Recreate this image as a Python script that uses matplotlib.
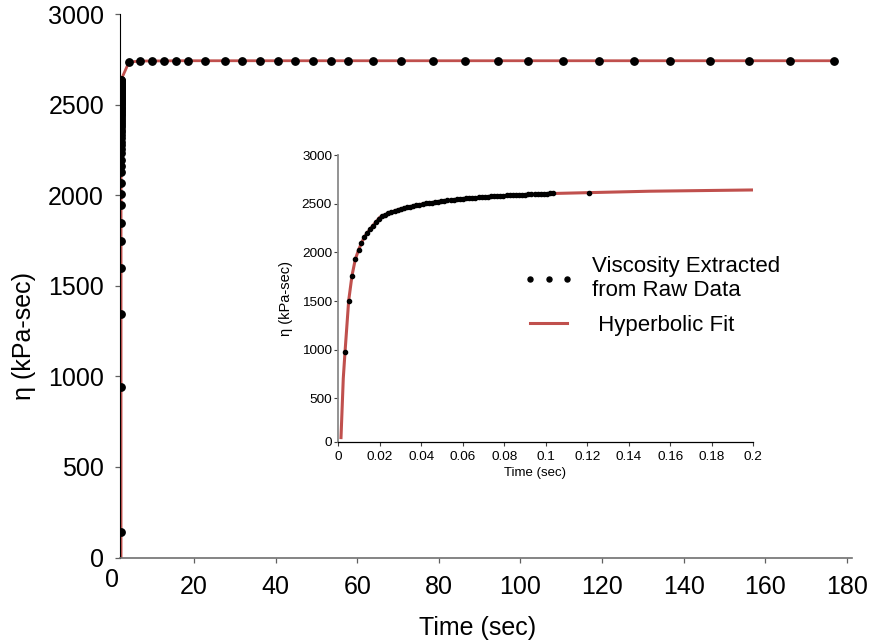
import numpy as np
import matplotlib
matplotlib.use("Agg")
import matplotlib.pyplot as plt
from matplotlib.ticker import FuncFormatter

plt.rcParams['font.family'] = ['Liberation Sans', 'DejaVu Sans']

RED = '#C0504D'

# ---- Main plot: full creep record -------------------------------------
main_stack_t = 2.1
main_stack_v = [139, 943, 1344, 1596, 1747, 1846, 1946, 2005, 2065, 2126,
                2163, 2194, 2231, 2255, 2275, 2295, 2313, 2330, 2346, 2360,
                2374, 2387, 2399, 2410, 2421, 2431, 2441, 2450, 2459, 2467,
                2475, 2482, 2489, 2496, 2502, 2508, 2514, 2520, 2525, 2530,
                2535, 2540, 2545, 2549, 2553, 2557, 2561, 2565, 2569, 2573,
                2577, 2580, 2584, 2588, 2591, 2595, 2598, 2602, 2605, 2609,
                2612, 2616, 2619, 2623, 2626, 2630, 2633, 2636]
main_late_t = [4.04, 6.81, 9.68, 12.62, 15.49, 18.43, 22.67, 27.50, 31.81,
               36.15, 40.49, 44.80, 49.14, 53.48, 57.79, 63.92, 70.78, 78.55,
               86.47, 94.41, 101.91, 110.49, 119.17, 127.75, 136.72, 146.37,
               155.93, 166.05, 176.76]
main_late_v = [2735, 2740, 2741, 2741, 2742, 2742, 2742, 2742, 2742, 2742,
               2742, 2742, 2742, 2742, 2742, 2742, 2742, 2742, 2742, 2742,
               2742, 2742, 2742, 2742, 2742, 2742, 2742, 2742, 2742]

main_fit_t = [2.1, 2.1] + main_late_t
main_fit_v = [0, 2636] + main_late_v

main_xticks = [20, 40, 60, 80, 100, 120, 140, 160, 180]
main_yticks = [0, 500, 1000, 1500, 2000, 2500, 3000]

# ---- Inset: first 0.2 s -------------------------------------------------
inset_t = [0.00323, 0.0050, 0.0066, 0.0082, 0.0098, 0.0111, 0.0125, 0.0138,
           0.0153, 0.0166, 0.0181, 0.0196, 0.0211, 0.0226, 0.0241, 0.0256,
           0.0271, 0.0286, 0.0301, 0.0316, 0.0331, 0.0346, 0.0361, 0.0376,
           0.0391, 0.0406, 0.0421, 0.0436, 0.0451, 0.0466, 0.0481, 0.0496,
           0.0511, 0.0526, 0.0541, 0.0556, 0.0571, 0.0586, 0.0601, 0.0616,
           0.0631, 0.0646, 0.0661, 0.0676, 0.0691, 0.0706, 0.0721, 0.0736,
           0.0751, 0.0766, 0.0781, 0.0796, 0.0811, 0.0826, 0.0841, 0.0856,
           0.0871, 0.0886, 0.0901, 0.0916, 0.0931, 0.0946, 0.0961, 0.0976,
           0.0991, 0.1006, 0.1021, 0.1036, 0.1207]
inset_v = [974, 1504, 1761, 1929, 2027, 2092, 2157, 2198, 2237, 2274,
           2310, 2345, 2370, 2387, 2401, 2413, 2424, 2435, 2445, 2454,
           2462, 2470, 2477, 2484, 2490, 2496, 2502, 2507, 2512, 2517,
           2522, 2526, 2530, 2534, 2538, 2542, 2545, 2548, 2551, 2554,
           2557, 2560, 2563, 2565, 2568, 2570, 2572, 2574, 2577, 2579,
           2581, 2582, 2584, 2586, 2588, 2589, 2591, 2593, 2594, 2596,
           2597, 2598, 2600, 2601, 2602, 2604, 2605, 2606, 2613]

fit_t = [0.0013, 0.0024, 0.00323, 0.0050, 0.0066, 0.0082, 0.0098, 0.0111,
         0.0125, 0.0138, 0.0153, 0.0166, 0.0181, 0.0200, 0.0250, 0.0300,
         0.0400, 0.0500, 0.0600, 0.0800, 0.1000, 0.1200, 0.1500, 0.2000]
fit_v = [97, 706, 974, 1504, 1761, 1929, 2027, 2092, 2157, 2198, 2237,
         2274, 2310, 2360, 2410, 2445, 2494, 2526, 2551, 2583, 2603, 2613,
         2628, 2641]

inset_xticks = [0, 0.02, 0.04, 0.06, 0.08, 0.1, 0.12, 0.14, 0.16, 0.18, 0.2]
inset_yticks = [500, 1000, 1500, 2000, 2500, 3000]
inset_ybottom = 55

W, H = 875, 643
fig = plt.figure(figsize=(W / 100, H / 100), dpi=100)


def px_axes(left, top, right, bottom):
    return [left / W, 1 - bottom / H, (right - left) / W, (bottom - top) / H]


# main axes
ax = fig.add_axes(px_axes(120, 14, 852, 557.5))
ax.plot(main_fit_t, main_fit_v, color=RED, lw=2.0, zorder=2)
ax.plot(np.full(len(main_stack_v), main_stack_t), main_stack_v, 'o',
        color='black', ms=5.3, zorder=3)
ax.plot(main_late_t, main_late_v, 'o', color='black', ms=5.3, zorder=3)
ax.set_xlim(1.84, 181.25)
ax.set_ylim(0, 3000)
ax.set_xticks(main_xticks)
ax.set_yticks(main_yticks)
for s in ['top', 'right']:
    ax.spines[s].set_visible(False)
ax.spines['left'].set_color('black')
ax.spines['left'].set_linewidth(0.8)
ax.spines['bottom'].set_color('#707070')
ax.spines['bottom'].set_linewidth(1.2)
ax.tick_params(axis='both', direction='out', length=3.5, width=0.9,
               color='#606060', labelsize=18)
ax.tick_params(axis='x', pad=9)
ax.tick_params(axis='y', pad=8)
ax.text(0, -0.0195, '0', transform=ax.get_xaxis_transform(), ha='center',
        va='top', fontsize=18)
ax.set_xlabel('Time (sec)', fontsize=18)
ax.xaxis.set_label_coords((478 - 120) / 732, (557.5 - 628) / 543.5)
ax.xaxis.label.set_va('center')
ax.set_ylabel('η (kPa-sec)', fontsize=18)
ax.yaxis.set_label_coords((24 - 120) / 732, (557.5 - 336) / 543.5)
ax.yaxis.label.set_va('center')

# inset axes
ai = fig.add_axes(px_axes(338.3, 155, 753.3, 441.7))
fit_line, = ai.plot(fit_t, fit_v, color=RED, lw=2.2, zorder=2,
                    label=' Hyperbolic Fit')
pts, = ai.plot(inset_t, inset_v, 'o', color='black', ms=3.0, zorder=3,
               label='Viscosity Extracted\nfrom Raw Data')
ai.set_xlim(0, 0.2)
ai.set_ylim(inset_ybottom, 3000)
ai.set_xticks(inset_xticks)
ai.xaxis.set_major_formatter(FuncFormatter(lambda v, p: '%g' % v))
ai.set_yticks([inset_ybottom] + inset_yticks,
              ['0'] + [str(v) for v in inset_yticks])
for s in ['top', 'right']:
    ai.spines[s].set_visible(False)
ai.spines['left'].set_color('#8a8a8a')
ai.spines['left'].set_linewidth(1.3)
ai.spines['bottom'].set_color('black')
ai.spines['bottom'].set_linewidth(0.9)
ai.tick_params(axis='both', direction='out', length=3, width=0.8,
               color='#404040', labelsize=9.7)
ai.tick_params(axis='x', pad=4)
ai.tick_params(axis='y', pad=1.5)
ai.set_xlabel('Time (sec)', fontsize=9.5)
ai.xaxis.set_label_coords((535 - 338.3) / 415, (441.7 - 473) / 286.7)
ai.xaxis.label.set_va('center')
ai.set_ylabel('η (kPa-sec)', fontsize=10.5)
ai.yaxis.set_label_coords((286 - 338.3) / 415, (441.7 - 299) / 286.7)
ai.yaxis.label.set_va('center')

leg = fig.legend([pts, fit_line], [pts.get_label(), fit_line.get_label()],
                 loc='upper left', bbox_to_anchor=(523 / W, 1 - 256 / H),
                 frameon=False, fontsize=16, numpoints=3, handlelength=2.3,
                 handletextpad=0.8, borderpad=0, borderaxespad=0,
                 labelspacing=0.65, markerscale=1.2)
for t in leg.get_texts():
    t.set_linespacing(1.17)

fig.savefig('out.png', dpi=100)
